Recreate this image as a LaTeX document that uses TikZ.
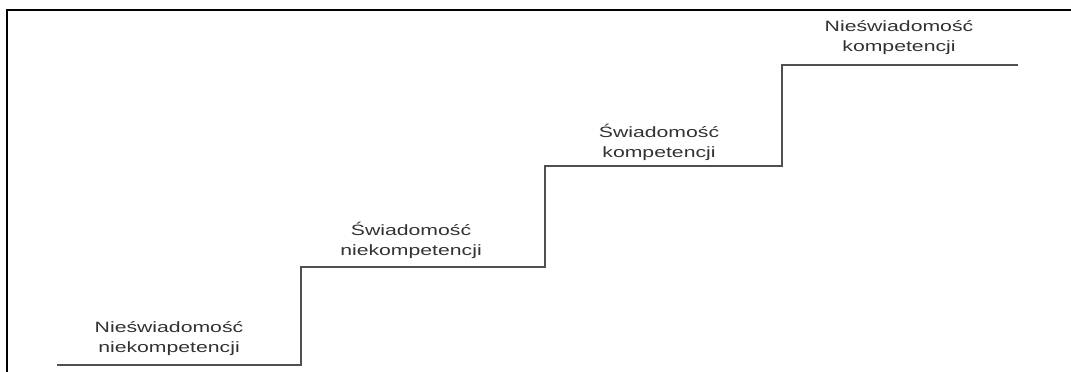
\documentclass[tikz,border=0pt]{standalone}
\usepackage{fontspec}
\usepackage{tikz}
\usetikzlibrary{positioning}
\newfontfamily\stairfont{Liberation Sans}[FakeStretch=1.42]
\definecolor{stairgray}{RGB}{80, 80, 80}
\definecolor{labelgray}{RGB}{50, 50, 50}

\tikzset{
    frameline/.style={line width=1.4pt, black},
    stairline/.style={line width=1.3pt, stairgray, line join=miter},
    stagelabel/.style={align=center, inner sep=0pt, text=labelgray,
        font=\stairfont\fontsize{8.5}{11.4}\selectfont}
}

\begin{document}
\begin{tikzpicture}[x=0.2mm, y=0.2mm]
    \useasboundingbox (0,0) rectangle (1071,372);

    % Frame (top and left edge)
    \coordinate (fl) at (7,0);
    \coordinate (ftl) at (7,362);
    \coordinate (ftr) at (1071,362);
    \draw[frameline] (fl) -- (ftl) -- (ftr);

    % Stair corners
    \coordinate (s0) at (57,7);
    \coordinate (s1) at (301,7);
    \coordinate (s2) at (301,105);
    \coordinate (s3) at (545,105);
    \coordinate (s4) at (545,206);
    \coordinate (s5) at (782,206);
    \coordinate (s6) at (782,307);
    \coordinate (s7) at (1018,307);
    \draw[stairline] (s0) -- (s1) -- (s2) -- (s3) -- (s4) -- (s5) -- (s6) -- (s7);

    % Stage labels
    \node[stagelabel] (unconsInc) at (169,33) {Nieświadomość\\niekompetencji};
    \node[stagelabel] (consInc) at (411,132) {Świadomość\\niekompetencji};
    \node[stagelabel] (consComp) at (659,230) {Świadomość\\kompetencji};
    \node[stagelabel] (unconsComp) at (899,334) {Nieświadomość\\kompetencji};
\end{tikzpicture}
\end{document}
